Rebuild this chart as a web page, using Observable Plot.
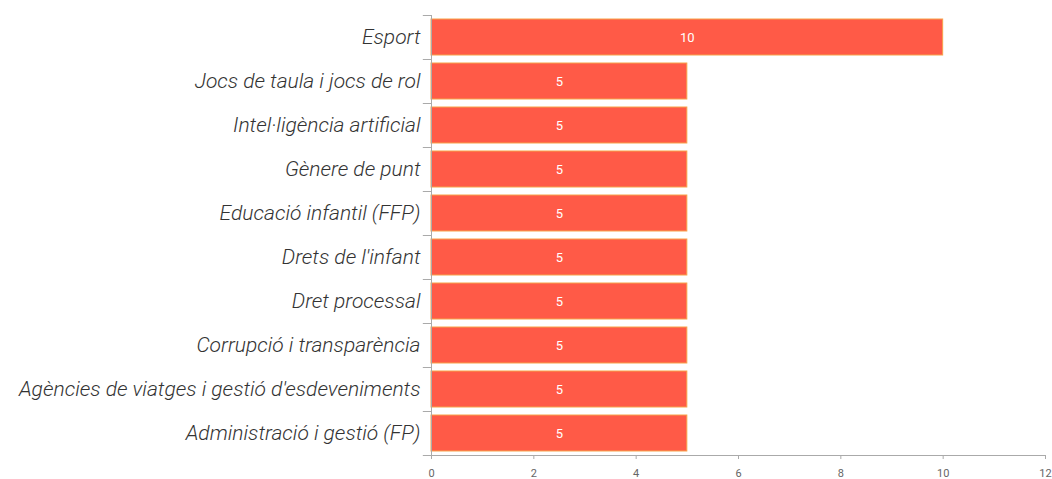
<!DOCTYPE html>
<html><head><meta charset="utf-8">
<script src="https://cdn.jsdelivr.net/npm/d3@7"></script>
<script src="https://cdn.jsdelivr.net/npm/@observablehq/plot@0.6"></script>
<style>body{margin:0;background:#fff}</style>
</head><body><div id="chart"></div>
<script>
const categories = ["Esport","Jocs de taula i jocs de rol","Intel·ligència artificial","Gènere de punt","Educació infantil (FFP)","Drets de l'infant","Dret processal","Corrupció i transparència","Agències de viatges i gestió d'esdeveniments","Administració i gestió (FP)"];
const values = [10,5,5,5,5,5,5,5,5,5];
const xTicks = [0,2,4,6,8,10,12];
const data = categories.map((c,i)=>({cat:c, value:values[i]}));

const W=1052, H=479, mt=15, mb=24, ml=431, mr=7;
const step=(H-mt-mb)/categories.length;

const chart = Plot.plot({
  width:W, height:H, marginTop:mt, marginBottom:mb, marginLeft:ml, marginRight:mr,
  style:{fontFamily:"Roboto, sans-serif", background:"#fff"},
  x:{domain:[0,12], ticks:xTicks},
  y:{domain:categories, paddingInner:0.19, paddingOuter:0.085},
  marks:[
    Plot.barX(data,{y:"cat", x:"value", fill:"#ff5a47", stroke:"#f7a24a", strokeWidth:1}),
    Plot.text(data,{y:"cat", x:d=>d.value/2, text:d=>String(d.value), fill:"#fff", fontSize:13, fontWeight:400}),
    Plot.frame({anchor:"left", stroke:"#aaa"}),
    Plot.frame({anchor:"bottom", stroke:"#aaa"}),
    Plot.ruleY(categories,{y:d=>d, x1:-0.16, x2:0, dy:-step/2, stroke:"#aaa"}),
    Plot.ruleY([categories[categories.length-1]],{y:d=>d, x1:-0.16, x2:0, dy:step/2, stroke:"#aaa"}),
    Plot.axisY({tickSize:0, tickPadding:11, fontSize:21, fontStyle:"italic", fontWeight:300, fill:"#333", label:null}),
    Plot.axisX({ticks:xTicks, tickSize:4, tickPadding:10, fontSize:11, fill:"#666", stroke:"#aaa", label:null})
  ]
});
document.getElementById("chart").append(chart);
</script></body></html>
